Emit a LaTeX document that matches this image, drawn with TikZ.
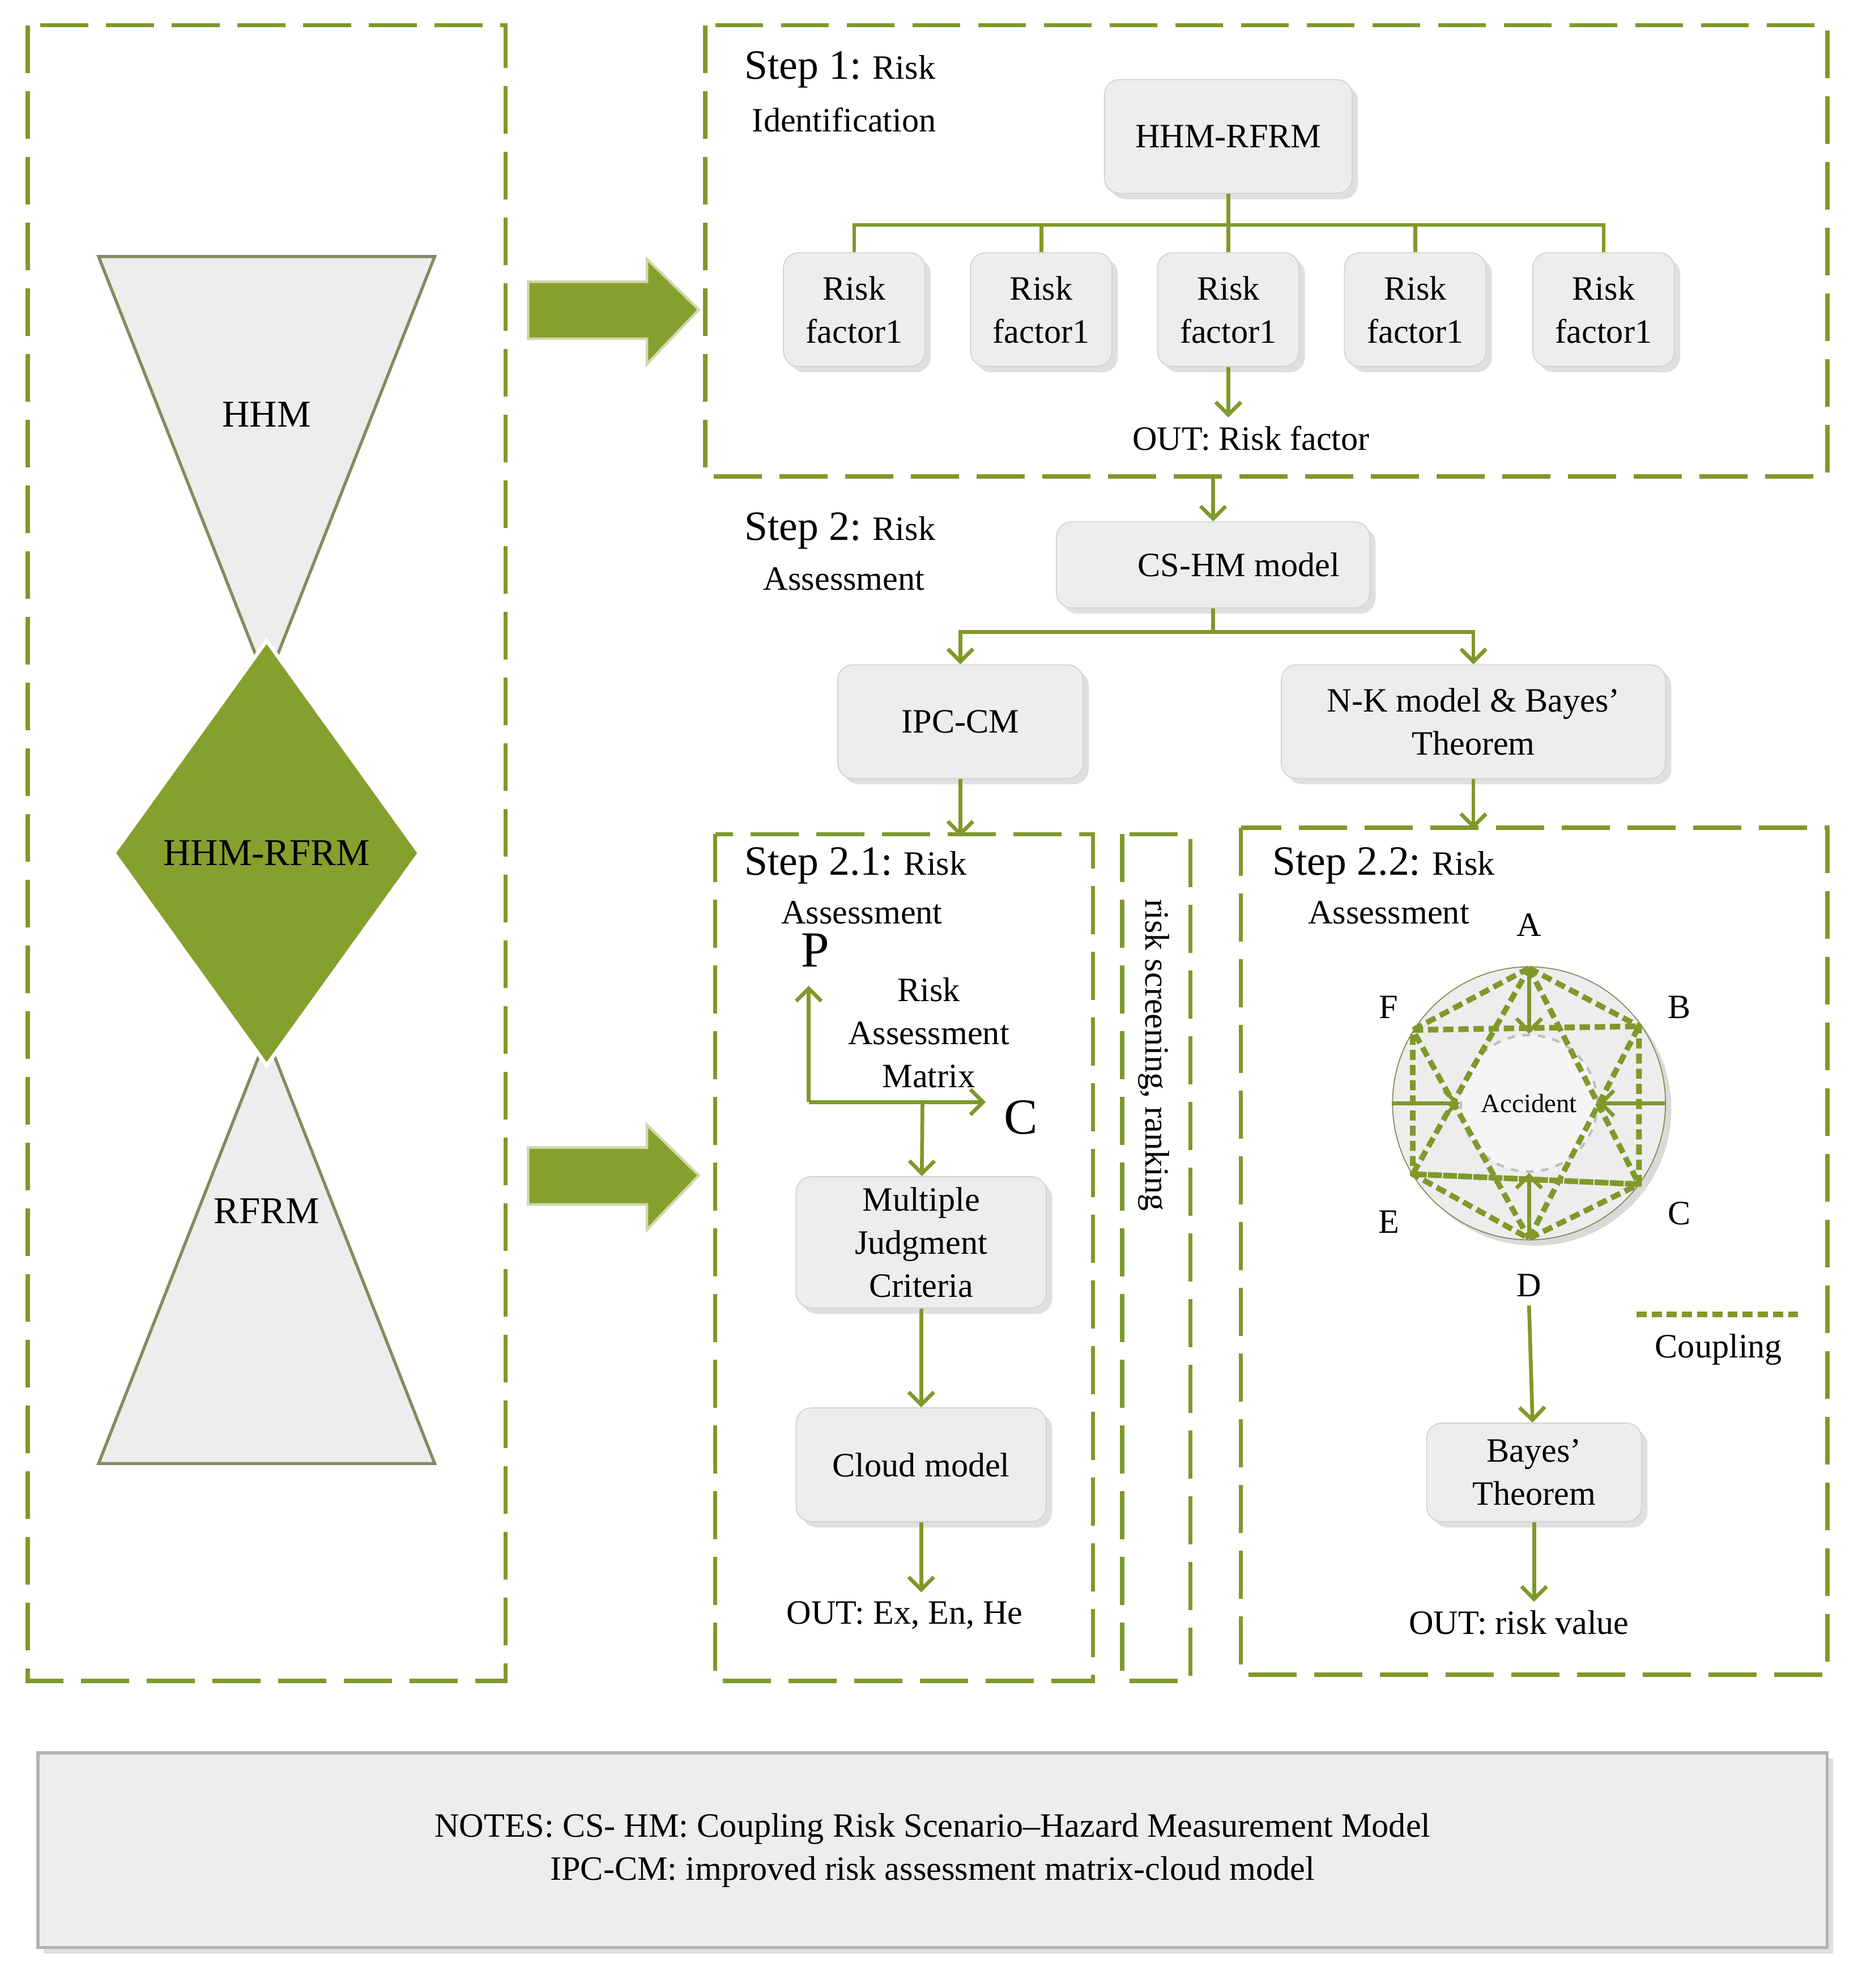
\documentclass[tikz,border=0pt]{standalone}
\usepackage{fontspec}
\setmainfont{Liberation Serif}
\usetikzlibrary{shadows,arrows.meta}
\definecolor{olive}{HTML}{86A02E}
\definecolor{oliveline}{HTML}{7F992A}
\definecolor{boxfill}{HTML}{EDEDED}
\tikzset{
  frame/.style={draw=oliveline,line width=1.7pt,dash pattern=on 19pt off 7pt},
  box/.style={draw=gray!35,fill=boxfill,rounded corners=6pt,drop shadow={opacity=0.25},align=center,font=\fontsize{13.5}{17}\selectfont},
  link/.style={draw=oliveline,line width=1.5pt},
  go/.style={link,-{Straight Barb[length=5pt,width=10pt]}},
  txt/.style={align=center,font=\fontsize{13.5}{17}\selectfont},
  couple/.style={draw=oliveline,line width=2.2pt,dash pattern=on 4pt off 2pt}
}
\begin{document}
\begin{tikzpicture}[x=0.5pt,y=-0.5pt]
        \useasboundingbox (0,0) rectangle (1470,1573);
        % frames
        \draw[frame] (22,20) rectangle (400,1330);
        \draw[frame] (558,20) rectangle (1446,377);
        \draw[frame] (566,660) rectangle (865,1330);
        \draw[frame] (888,660) rectangle (942,1330);
        \draw[frame] (982,655) rectangle (1446,1325);
        % left side
        \draw[draw=gray!60!olive,fill=boxfill,line width=1.2pt] (78,203) -- (344,203) -- (211,540) -- cycle;
        \draw[draw=gray!60!olive,fill=boxfill,line width=1.2pt] (78,1158) -- (344,1158) -- (211,820) -- cycle;
        \draw[draw=white,fill=olive,line width=1.5pt] (211,507) -- (332,675) -- (211,843) -- (90,675) -- cycle;
        \node[txt,font=\fontsize{15}{17}\selectfont] (hhm) at (211,328) {HHM};
        \node[txt,font=\fontsize{15}{17}\selectfont] (rfrm) at (211,958) {RFRM};
        \node[txt,font=\fontsize{15}{17}\selectfont] (mid) at (211,675) {HHM-RFRM};
        \foreach \y in {245,930}
          \draw[fill=olive,draw=olive!40,line width=1pt] (418,\y-22) -- (512,\y-22) -- (512,\y-40) -- (553,\y) -- (512,\y+43) -- (512,\y+23) -- (418,\y+23) -- cycle;
        % step 1
        \node[txt,anchor=west] (s1) at (582,55) {{\fontsize{16.5}{19}\selectfont Step 1:} Risk};
        \node[txt] (s1b) at (668,95) {Identification};
        \node[box,minimum width=98pt,minimum height=45pt] (root) at (972,108) {HHM-RFRM};
        \foreach \i/\x in {1/676,2/824,3/972,4/1120,5/1269}
          \node[box,minimum width=56pt,minimum height=45pt] (rf\i) at (\x,245) {Risk\\factor1};
        \coordinate (bus) at (972,178);
        \draw[link] (root) -- (bus);
        \draw[link] (rf1.north) |- (bus) -| (rf5.north);
        \foreach \i in {2,3,4} \draw[link] (rf\i.north) -- (rf\i.north |- bus);
        \node[txt] (out1) at (990,347) {OUT: Risk factor};
        \draw[go] (rf3) -- (out1.north -| rf3);
        % step 2
        \coordinate (s1end) at (960,377);
        \node[box,minimum width=124pt,minimum height=34pt] (cshm) at (960,447) {\hspace{1.5em}CS-HM model};
        \draw[go] (s1end) -- (cshm);
        \node[txt,anchor=west] (s2) at (582,420) {{\fontsize{16.5}{19}\selectfont Step 2:} Risk};
        \node[txt] (s2b) at (668,458) {Assessment};
        \node[box,minimum width=97pt,minimum height=45pt] (ipc) at (760,571) {IPC-CM};
        \node[box,minimum width=152pt,minimum height=45pt] (nk) at (1166,571) {N-K model \& Bayes'\\Theorem};
        \coordinate (bus2) at (960,500);
        \draw[link] (cshm) -- (bus2);
        \draw[go] (bus2) -| (ipc);
        \draw[go] (bus2) -| (nk);
        % step 2.1
        \coordinate (f21) at (760,662);
        \draw[go] (ipc) -- (f21);
        \node[txt,anchor=west] (s21) at (582,685) {{\fontsize{16.5}{19}\selectfont Step 2.1:} Risk};
        \node[txt] (s21b) at (682,722) {Assessment};
        \coordinate (o) at (640,872);
        \node[font=\fontsize{20}{22}\selectfont] (p) at (645,752) {P};
        \node[font=\fontsize{20}{22}\selectfont] (c) at (808,884) {C};
        \coordinate (pend) at (640,780);
        \coordinate (cend) at (780,872);
        \draw[go] (o) -- (pend);
        \draw[go] (o) -- (cend);
        \node[txt] (ram) at (735,817) {Risk\\Assessment\\Matrix};
        \coordinate (ramo) at (730,872);
        \node[box,minimum width=99pt,minimum height=52pt] (mjc) at (729,983) {Multiple\\Judgment\\Criteria};
        \draw[go] (ramo) -- (mjc);
        \node[box,minimum width=99pt,minimum height=45pt] (cloud) at (729,1159) {Cloud model};
        \draw[go] (mjc) -- (cloud);
        \node[txt] (out21) at (716,1278) {OUT: Ex, En, He};
        \draw[go] (cloud) -- (out21.north -| cloud);
        \node[txt,rotate=-90] (screen) at (913,835) {risk screening, ranking};
        % step 2.2
        \coordinate (f22) at (1166,656);
        \draw[go] (nk) -- (f22);
        \node[txt,anchor=west] (s22) at (1000,685) {{\fontsize{16.5}{19}\selectfont Step 2.2:} Risk};
        \node[txt] (s22b) at (1099,722) {Assessment};
        \node[circle,draw=gray!60!olive,fill=boxfill,minimum size=108pt,drop shadow={opacity=0.3}] (ring) at (1210,873) {};
        \node[circle,draw=gray!50,dashed,line width=1pt,fill=gray!8,minimum size=54pt,font=\fontsize{10.5}{12}\selectfont] (acc) at (1210,873) {Accident};
        \coordinate (A) at (1210,766);
        \coordinate (B) at (1297,812);
        \coordinate (C) at (1297,937);
        \coordinate (D) at (1210,980);
        \coordinate (E) at (1118,929);
        \coordinate (F) at (1118,815);
        \draw[couple] (A) -- (B) -- (C) -- (D) -- (E) -- (F) -- cycle;
        \draw[couple] (A) -- (C) -- (E) -- cycle;
        \draw[couple] (D) -- (B) -- (F) -- cycle;
        \draw[couple] (F) -- (B);
        \draw[couple] (E) -- (C);
        \draw[go] (A) -- (acc.north);
        \draw[go] (D) -- (acc.south);
        \draw[go] (ring.west) -- (acc.west);
        \draw[go] (ring.east) -- (acc.east);
        \foreach \n/\x/\y in {A/1210/732,B/1329/797,C/1329/960,D/1210/1017,E/1099/967,F/1099/797}
          \node[txt] (l\n) at (\x,\y) {\n};
        \node[box,minimum width=85pt,minimum height=39pt] (bayes) at (1214,1165) {Bayes'\\Theorem};
        \draw[go] (lD.south) -- (bayes);
        \node[txt] (out22) at (1202,1284) {OUT: risk value};
        \draw[go] (bayes) -- (out22.north -| bayes);
        \coordinate (cp1) at (1295,1040);
        \coordinate (cp2) at (1425,1040);
        \draw[couple] (cp1) -- (cp2);
        \node[txt] (cpl) at (1360,1068) {Coupling};
        % notes
        \node[draw=gray!60,line width=1.2pt,fill=boxfill,minimum width=708pt,minimum height=77pt,drop shadow={opacity=0.25},txt] (notes) at (738,1464)
          {NOTES: CS- HM: Coupling Risk Scenario--Hazard Measurement Model\\IPC-CM: improved risk assessment matrix-cloud model};
\end{tikzpicture}
\end{document}
